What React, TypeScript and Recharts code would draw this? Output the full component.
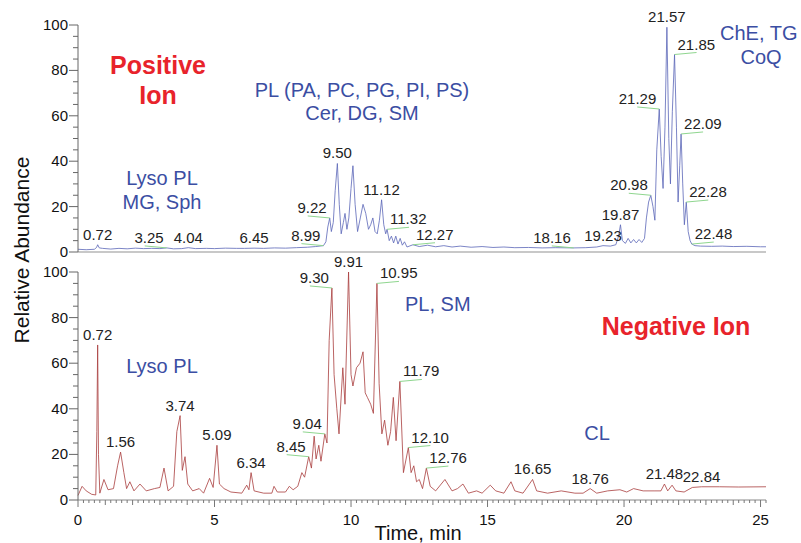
import React from 'react';
import { LineChart, Line, XAxis, YAxis, ReferenceDot } from 'recharts';

// positive ion trace (time in min, relative abundance %)
const posTimes = [
  0, 0.3, 0.6, 0.68, 0.72, 0.78, 0.9, 1.2, 1.5, 1.8,
  2.1, 2.4, 2.7, 3.0, 3.25, 3.5, 3.8, 4.04, 4.3, 4.7,
  5.0, 5.4, 5.8, 6.1, 6.45, 6.8, 7.2, 7.6, 8.0, 8.4,
  8.7, 8.99, 9.08, 9.15, 9.22, 9.28, 9.35, 9.42, 9.5, 9.57,
  9.64, 9.72, 9.78, 9.85, 9.92, 10.0, 10.07, 10.15, 10.24, 10.34,
  10.44, 10.54, 10.64, 10.72, 10.8, 10.88, 10.96, 11.04, 11.12, 11.2,
  11.27, 11.32, 11.4, 11.48, 11.56, 11.64, 11.72, 11.8, 11.88, 11.96,
  12.05, 12.27, 12.5, 12.8, 13.1, 13.4, 13.7, 14.0, 14.4, 14.8,
  15.2, 15.6, 16.0, 16.5, 17.0, 17.5, 18.16, 18.6, 19.0, 19.23,
  19.5, 19.7, 19.8, 19.87, 19.94, 20.05, 20.15, 20.25, 20.35, 20.45,
  20.55, 20.65, 20.75, 20.82, 20.9, 20.98, 21.06, 21.13, 21.2, 21.29,
  21.36, 21.43, 21.5, 21.57, 21.64, 21.7, 21.77, 21.85, 21.92, 21.98,
  22.04, 22.09, 22.15, 22.21, 22.28, 22.35, 22.42, 22.48, 22.6, 22.8,
  23.2, 23.6, 24.0, 24.5, 25.0, 25.2,
];
const posAbundance = [
  1.2, 1.0, 1.2, 2.0, 3.2, 1.8, 1.6, 1.3, 1.6, 1.4,
  1.7, 1.5, 1.6, 1.5, 1.8, 1.4, 1.5, 1.9, 1.5, 1.6,
  1.5, 1.7, 1.6, 1.6, 1.7, 1.6, 1.8, 1.7, 1.9, 2.1,
  2.4, 2.8, 4.5, 11, 15, 9, 13, 27, 39, 21,
  8, 13, 17, 10, 15, 28, 38, 21, 9, 15,
  21, 17, 10, 12, 15, 9, 8, 14, 23, 12,
  8, 10, 5, 7, 4, 7, 3.5, 6, 3, 4.5,
  2.2, 3.2, 2.4, 3, 2.3, 2.8, 2.2, 2.6, 2.1, 2.4,
  2.0, 2.2, 1.9, 2.0, 1.8, 1.9, 1.8, 1.9, 2.2, 2.8,
  2.6, 3.2, 7, 12, 5, 3.8, 6, 4, 5.5, 4,
  5.5, 4.2, 6, 15, 22, 25, 20, 14, 45, 63,
  42, 28, 55, 99, 50, 30, 62, 87, 55, 22,
  38, 52, 30, 12, 22, 9, 5, 3.5, 2.8, 2.6,
  2.5, 2.6, 2.4, 2.5, 2.3, 2.3,
];

// negative ion trace
const negTimes = [
  0, 0.15, 0.3, 0.5, 0.65, 0.69, 0.72, 0.75, 0.8, 0.95,
  1.1, 1.3, 1.45, 1.56, 1.68, 1.78, 1.9, 2.05, 2.27, 2.5,
  2.8, 3.0, 3.15, 3.3, 3.5, 3.62, 3.74, 3.82, 3.92, 4.02,
  4.2, 4.44, 4.6, 4.82, 4.95, 5.09, 5.18, 5.35, 5.6, 6.0,
  6.18, 6.26, 6.34, 6.45, 6.8, 7.1, 7.18, 7.3, 7.6, 7.74,
  7.88, 8.05, 8.2, 8.3, 8.45, 8.55, 8.65, 8.72, 8.82, 8.9,
  9.04, 9.12, 9.2, 9.3, 9.38, 9.48, 9.56, 9.7, 9.78, 9.91,
  10.0, 10.07, 10.2, 10.33, 10.44, 10.52, 10.6, 10.72, 10.82, 10.95,
  11.03, 11.13, 11.23, 11.35, 11.45, 11.55, 11.65, 11.79, 11.92, 12.1,
  12.2, 12.3, 12.4, 12.5, 12.62, 12.76, 12.9, 13.1, 13.44, 13.7,
  13.9, 14.1, 14.3, 14.6, 14.8, 15.1, 15.3, 15.6, 15.86, 16.0,
  16.3, 16.65, 16.8, 17.2, 17.7, 18.2, 18.5, 18.76, 19.0, 19.4,
  19.85, 20.1, 20.35, 20.7, 21.1, 21.35, 21.48, 21.6, 21.76, 21.9,
  22.2, 22.5, 22.84, 23.5, 24.2, 25.2,
];
const negAbundance = [
  2, 6, 4, 2.5, 2.2, 30, 68, 20, 3, 9,
  4.5, 5, 15, 21, 12, 5, 8, 4, 7, 4,
  5, 5.5, 14, 4, 6, 30, 37, 13, 19, 7,
  4, 5, 3, 9.5, 5.5, 24, 7, 5, 3.5, 3,
  6.5, 4.5, 12, 4, 3, 3, 6, 3.5, 3.5, 6,
  4.5, 6, 12, 10, 19, 14, 28, 18, 24, 17,
  29, 25, 70, 93, 55, 40, 29, 58, 42, 100,
  55, 50, 58, 60, 65, 47, 45, 42, 38, 95,
  51, 29, 35, 24, 30, 45, 26, 52, 12, 23,
  12, 15, 8, 9, 5, 14, 6, 4, 9, 4,
  5, 7, 3, 4, 3, 6.5, 4, 3, 8, 4,
  3, 9, 4, 3, 4, 3, 3, 5, 3, 4,
  4.5, 3.5, 5, 4, 4, 4, 7, 4, 6.5, 4,
  3.5, 5.5, 5.8, 5.8, 5.7, 5.8,
];

// labelled peaks
const posPeakTimes = [0.72, 3.25, 4.04, 6.45, 8.99, 9.22, 9.5, 11.12, 11.32, 12.27, 18.16, 19.23, 19.87, 20.98, 21.29, 21.57, 21.85, 22.09, 22.28, 22.48];
const posPeakHeights = [3.2, 1.8, 1.9, 1.7, 2.8, 15, 39, 23, 10, 3.2, 1.8, 2.8, 12, 25, 63, 99, 87, 52, 22, 3.5];
const negPeakTimes = [0.72, 1.56, 3.74, 5.09, 6.34, 8.45, 9.04, 9.3, 9.91, 10.95, 11.79, 12.1, 12.76, 16.65, 18.76, 21.48, 22.84];
const negPeakHeights = [68, 21, 37, 24, 12, 19, 29, 93, 100, 95, 52, 23, 14, 9, 5, 7, 5.8];

const timeTickLabels = [0, 5, 10, 15, 20, 25];
const abundanceTickLabels = [0, 20, 40, 60, 80, 100];

// where each peak label sits relative to its peak (c = above, l = left, r = right)
const posLabelSide = ['c', 'l', 'c', 'c', 'l', 'l', 'c', 'c', 'r', 'r', 'l', 'c', 'c', 'l', 'l', 'c', 'r', 'r', 'r', 'r'];
const negLabelSide = ['c', 'c', 'c', 'c', 'c', 'l', 'l', 'l', 'c', 'r', 'r', 'r', 'r', 'c', 'c', 'c', 'c'];

const posData = posTimes.map((t, i) => ({ t, v: posAbundance[i] }));
const negData = negTimes.map((t, i) => ({ t, v: negAbundance[i] }));

const xTicks = Array.from({ length: 127 }, (_, i) => Math.round(i * 2) / 10);
const yTicks = Array.from({ length: 21 }, (_, i) => i * 5);

const FONT = 'Liberation Sans, Arial, Helvetica, sans-serif';
const BLUE = '#3b4ea3';
const RED = '#e8232b';

const AbundanceTick = (props: any) => {
  const { x, y, payload } = props;
  const v = payload.value;
  const major = abundanceTickLabels.includes(v);
  return (
    <g>
      <line x1={x - (major ? 9 : 5)} x2={x} y1={y} y2={y} stroke="#666" strokeWidth={1} />
      {major && (
        <text x={x - 10} y={y + 5} textAnchor="end" fontSize={15} fill="#111" fontFamily={FONT}>
          {v}
        </text>
      )}
    </g>
  );
};

const TimeTick = (props: any) => {
  const { x, y, payload } = props;
  const i = Math.round(payload.value * 5);
  const len = i % 25 === 0 ? 7 : i % 5 === 0 ? 5 : 3;
  const show = i % 25 === 0 && timeTickLabels.includes(i / 5);
  return (
    <g>
      <line x1={x} x2={x} y1={y} y2={y + len} stroke="#777" strokeWidth={1} />
      {show && (
        <text x={x} y={y + 25} textAnchor="middle" fontSize={15} fill="#111" fontFamily={FONT}>
          {i / 5}
        </text>
      )}
    </g>
  );
};

const PeakLabel = ({ cx, cy, text, side }: any) => {
  if (cx == null || cy == null) return null;
  if (side === 'c') {
    return (
      <text x={cx} y={cy - 5} textAnchor="middle" fontSize={15} fill="#222" fontFamily={FONT}>
        {text}
      </text>
    );
  }
  const dir = side === 'r' ? 1 : -1;
  return (
    <g>
      <line x1={cx} y1={cy} x2={cx + dir * 22} y2={cy - 2} stroke="#8fd68f" strokeWidth={1} />
      <text
        x={cx + dir * 3}
        y={cy - 5}
        textAnchor={side === 'r' ? 'start' : 'end'}
        fontSize={15}
        fill="#222"
        fontFamily={FONT}
      >
        {text}
      </text>
    </g>
  );
};

const peakDots = (times: number[], heights: number[], sides: string[]) =>
  times.map((t, i) => (
    <ReferenceDot
      key={`pk-${i}`}
      x={t}
      y={heights[i]}
      r={0}
      ifOverflow="visible"
      shape={(p: any) => <PeakLabel cx={p.cx} cy={p.cy} text={t.toFixed(2)} side={sides[i]} />}
    />
  ));

export default function App() {
  return (
    <div style={{ position: 'absolute', left: 0, top: 0, width: 801, height: 543, background: '#fff', fontFamily: FONT }}>
      <div style={{ position: 'absolute', left: 0, top: 0 }}>
        <LineChart width={801} height={262} data={posData} margin={{ top: 25, right: 35, bottom: 9, left: 0 }}>
          <XAxis
            dataKey="t"
            type="number"
            domain={[0, 25.2]}
            ticks={timeTickLabels}
            tick={false}
            tickLine={false}
            height={1}
            axisLine={{ stroke: '#c8c8c8', strokeWidth: 2 }}
          />
          <YAxis
            type="number"
            domain={[0, 100]}
            ticks={yTicks}
            interval={0}
            width={78}
            tickSize={0}
            tickMargin={0}
            tickLine={false}
            tick={<AbundanceTick />}
            axisLine={{ stroke: '#666' }}
          />
          <Line
            type="linear"
            dataKey="v"
            stroke="#5a66b8"
            strokeWidth={0.8}
            dot={false}
            isAnimationActive={false}
          />
          {peakDots(posPeakTimes, posPeakHeights, posLabelSide)}
        </LineChart>
      </div>
      <div style={{ position: 'absolute', left: 0, top: 240 }}>
        <LineChart width={801} height={303} data={negData} margin={{ top: 32, right: 35, bottom: 0, left: 0 }}>
          <XAxis
            dataKey="t"
            type="number"
            domain={[0, 25.2]}
            ticks={xTicks}
            interval={0}
            tickSize={0}
            tickMargin={0}
            tickLine={false}
            tick={<TimeTick />}
            height={43}
            axisLine={{ stroke: '#888' }}
          />
          <YAxis
            type="number"
            domain={[0, 100]}
            ticks={yTicks}
            interval={0}
            width={78}
            tickSize={0}
            tickMargin={0}
            tickLine={false}
            tick={<AbundanceTick />}
            axisLine={{ stroke: '#666' }}
          />
          <Line
            type="linear"
            dataKey="v"
            stroke="#a83c3c"
            strokeWidth={0.8}
            dot={false}
            isAnimationActive={false}
          />
          {peakDots(negPeakTimes, negPeakHeights, negLabelSide)}
        </LineChart>
      </div>
      <svg width={801} height={543} style={{ position: 'absolute', left: 0, top: 0, pointerEvents: 'none' }}>
        <text x={29} y={250} transform="rotate(-90 29 250)" textAnchor="middle" fontSize={21} fill="#111" fontFamily={FONT}>
          Relative Abundance
        </text>
        <text x={418} y={540} textAnchor="middle" fontSize={20} fill="#111" fontFamily={FONT}>
          Time, min
        </text>
        <text x={158} y={74} textAnchor="middle" fontSize={25} fontWeight="bold" fill={RED} fontFamily={FONT}>
          Positive
        </text>
        <text x={158} y={104} textAnchor="middle" fontSize={25} fontWeight="bold" fill={RED} fontFamily={FONT}>
          Ion
        </text>
        <text x={676} y={335} textAnchor="middle" fontSize={25} fontWeight="bold" fill={RED} fontFamily={FONT}>
          Negative Ion
        </text>
        <g fontSize={20} fill={BLUE} fontFamily={FONT}>
          <text x={362} y={97} textAnchor="middle">PL (PA, PC, PG, PI, PS)</text>
          <text x={362} y={120} textAnchor="middle">Cer, DG, SM</text>
          <text x={162} y={185} textAnchor="middle">Lyso PL</text>
          <text x={162} y={209} textAnchor="middle">MG, Sph</text>
          <text x={720} y={40}>ChE, TG</text>
          <text x={761} y={64} textAnchor="middle">CoQ</text>
          <text x={405} y={311}>PL, SM</text>
          <text x={162} y={373} textAnchor="middle">Lyso PL</text>
          <text x={597} y={440} textAnchor="middle">CL</text>
        </g>
      </svg>
    </div>
  );
}
